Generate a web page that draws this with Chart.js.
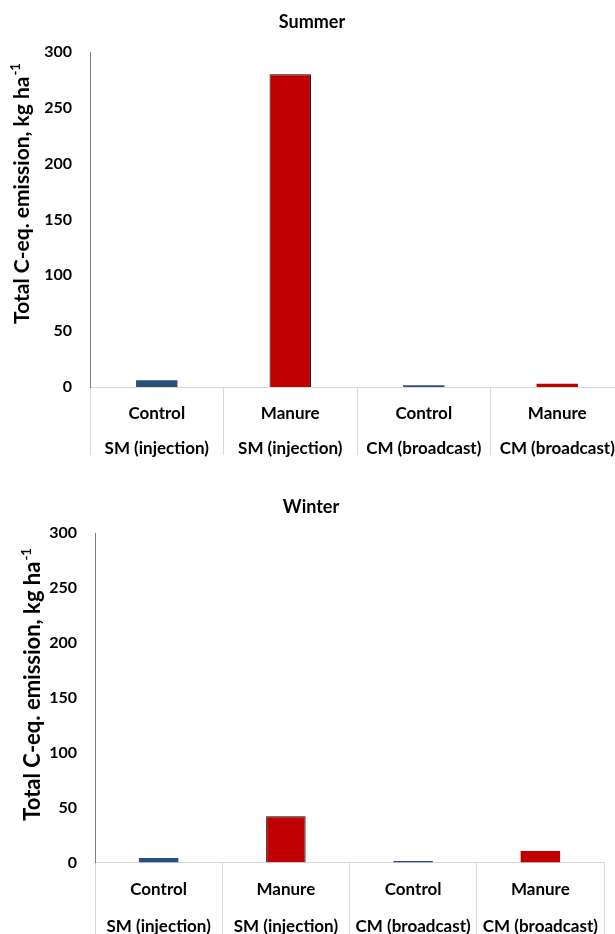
<!DOCTYPE html>
<html>
<head>
<meta charset="utf-8">
<script src="https://cdn.jsdelivr.net/npm/chart.js@4/dist/chart.umd.min.js"></script>
<style>
  html, body { margin: 0; padding: 0; background: #fff; width: 615px; height: 934px; overflow: hidden; }
  canvas { position: absolute; left: 0; }
  #summer { top: 0; }
  #winter { top: 470px; }
</style>
</head>
<body>
<canvas id="summer" width="625" height="462"></canvas>
<canvas id="winter" width="615" height="475"></canvas>
<script>
// ---- data ----
const categories = [
  ["Control", "SM (injection)"],
  ["Manure", "SM (injection)"],
  ["Control", "CM (broadcast)"],
  ["Manure", "CM (broadcast)"]
];
const summerValues = [6, 280, 1.5, 3];
const winterValues = [4, 42, 1.3, 10.5];
const yMin = 0;
const yMax = 300;
const yStep = 50;
const yTitleMain = "Total C-eq. emission, kg ha";
const yTitleSup = "-1";

// ---- styles ----
const FONT = "Lato";
const barColors = ["#2A5080", "#C00000", "#2A5080", "#C00000"];
const barBorderWidths = [0, 1, 0, 0];

const textLayer = {
  id: "textLayer",
  afterDraw(chart, args, o) {
    const ctx = chart.ctx;
    ctx.save();
    ctx.fillStyle = "#000";
    ctx.font = `bold ${o.titleSize}px ${FONT}`;
    ctx.textAlign = "center";
    ctx.textBaseline = "middle";
    ctx.fillText(o.title, o.titleX, o.titleY);

    ctx.translate(o.yTitleX, o.yTitleY);
    ctx.rotate(-Math.PI / 2);
    ctx.textAlign = "left";
    ctx.textBaseline = "alphabetic";
    ctx.font = `bold ${o.yTitleSize}px ${FONT}`;
    const w1 = ctx.measureText(yTitleMain).width;
    const supSize = Math.round(o.yTitleSize * 0.6);
    ctx.font = `bold ${supSize}px ${FONT}`;
    const w2 = ctx.measureText(yTitleSup).width;
    const start = -(w1 + w2) / 2;
    ctx.font = `bold ${o.yTitleSize}px ${FONT}`;
    ctx.fillText(yTitleMain, start, 0);
    ctx.font = `bold ${supSize}px ${FONT}`;
    ctx.fillText(yTitleSup, start + w1 + 1, -o.yTitleSize * 0.42);
    ctx.restore();
  }
};

function makeChart(id, values, cfg) {
  return new Chart(document.getElementById(id), {
    type: "bar",
    data: {
      labels: categories,
      datasets: [{
        data: values,
        backgroundColor: barColors,
        borderColor: "#000",
        borderWidth: barBorderWidths,
        categoryPercentage: 0.31,
        barPercentage: 1
      }]
    },
    plugins: [textLayer],
    options: {
      responsive: false,
      animation: false,
      devicePixelRatio: 1,
      layout: { padding: { top: cfg.top, left: 0, right: cfg.right, bottom: 0 } },
      plugins: {
        legend: { display: false },
        tooltip: { enabled: false },
        title: { display: false },
        textLayer: cfg.text
      },
      scales: {
        x: {
          grid: {
            offset: true,
            drawOnChartArea: false,
            drawTicks: true,
            tickLength: cfg.tickLength,
            color: "#D9D9D9",
            lineWidth: 1
          },
          border: { display: true, color: "#D9D9D9", width: 1 },
          ticks: {
            font: { family: FONT, weight: "bold", size: 17, lineHeight: cfg.labelLineHeight },
            color: "#000",
            padding: cfg.labelPadding,
            maxRotation: 0,
            autoSkip: false
          },
          afterFit(scale) { scale.height = cfg.xHeight; }
        },
        y: {
          min: yMin,
          max: yMax,
          grid: { display: false, drawTicks: false },
          border: { display: true, color: "#7F7F7F", width: 1 },
          ticks: {
            stepSize: yStep,
            font: { family: FONT, weight: "bold", size: 16 },
            color: "#000",
            padding: 18
          },
          afterFit(scale) { scale.width = cfg.yWidth; }
        }
      }
    }
  });
}

makeChart("summer", summerValues, {
  top: 52, right: 1, xHeight: 75, yWidth: 90,
  tickLength: 68, labelPadding: -59, labelLineHeight: 2.06,
  text: { title: "Summer", titleSize: 18, titleX: 312, titleY: 22,
          yTitleSize: 21, yTitleX: 29, yTitleY: 194 }
});

makeChart("winter", winterValues, {
  top: 63, right: 11, xHeight: 82.5, yWidth: 95,
  tickLength: 82, labelPadding: -74, labelLineHeight: 2.2,
  text: { title: "Winter", titleSize: 18, titleX: 311, titleY: 37,
          yTitleSize: 22, yTitleX: 40, yTitleY: 215 }
});
</script>
</body>
</html>
